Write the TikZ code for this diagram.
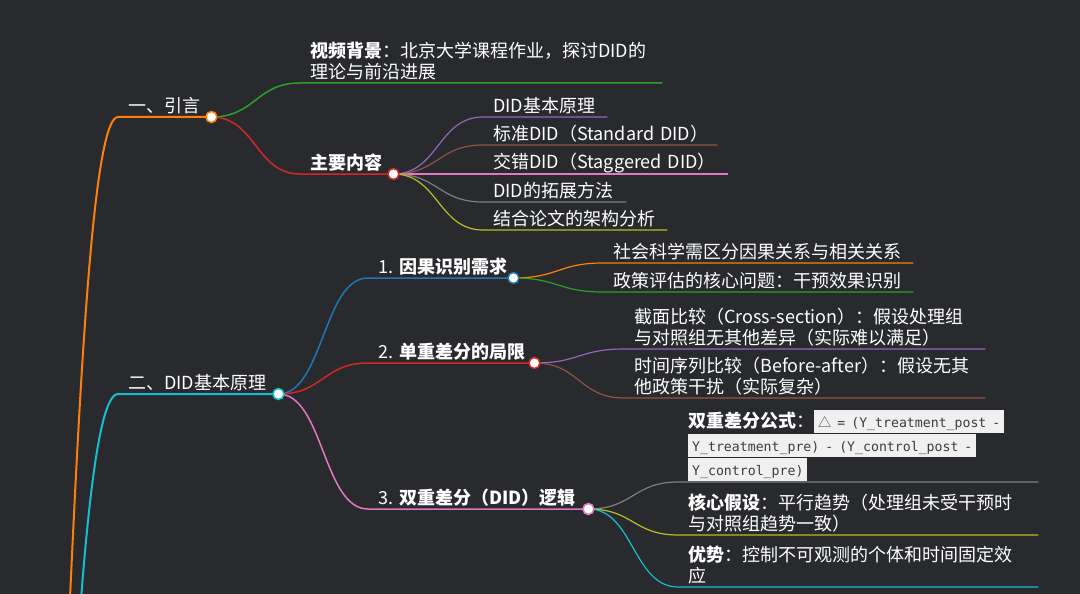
\documentclass[tikz,border=0pt]{standalone}
\usepackage{fontspec}
\setmainfont{Noto Sans CJK SC}
\newfontfamily\codefont{DejaVu Sans Mono}
\usepackage{xcolor}
\usetikzlibrary{calc}
\definecolor{bgdark}{RGB}{40,42,45}
\definecolor{codebg}{RGB}{240,240,240}
\definecolor{codefg}{RGB}{60,60,60}
\definecolor{cBlue}{RGB}{31,119,180}
\definecolor{cOrange}{RGB}{255,127,14}
\definecolor{cGreen}{RGB}{44,160,44}
\definecolor{cRed}{RGB}{214,39,40}
\definecolor{cPurple}{RGB}{148,103,189}
\definecolor{cBrown}{RGB}{140,86,75}
\definecolor{cPink}{RGB}{227,119,194}
\definecolor{cGray}{RGB}{127,127,127}
\definecolor{cOlive}{RGB}{188,189,34}
\definecolor{cTeal}{RGB}{23,190,207}
\newcommand{\lnstrut}{\rule[-3.5pt]{0pt}{3.5pt}}
\newcommand{\code}[1]{{\setlength{\fboxsep}{0pt}\colorbox{codebg}{\hspace{4pt}\codefont\fontsize{13.2}{16}\selectfont\color{codefg}\rule[-6pt]{0pt}{23pt}#1\hspace{4pt}}}}

\begin{document}
\begin{tikzpicture}[
  x=1pt, y=-1pt,
  topic/.style={anchor=south west, inner xsep=10pt, inner ysep=0.5pt,
                text width=#1, align=left, text=white,
                font=\fontsize{18}{21.6}\selectfont,
                execute at end node=\lnstrut},
  dot/.style={circle, draw=#1, fill=white, line width=1.5pt,
              minimum size=11pt, inner sep=0pt},
  mmlink/.style={to path={let \p1=(\tikztostart), \p2=(\tikztotarget) in
      .. controls ({(\x1+\x2)/2},\y1) and ({(\x1+\x2)/2},\y2) .. (\tikztotarget)}},
  lv1/.style={line width=2pt},
  lv2/.style={line width=1.5pt},
  lv3/.style={line width=1.2pt}]
\useasboundingbox (0,0) rectangle (1080,594);
\fill[bgdark] (0,0) rectangle (1080,594);
\clip (0,0) rectangle (1080,594);

\coordinate (root) at (12,1300);

% first level
\node[topic=73pt] (intro) at (118,117) {一、引言};
\node[topic=140pt] (basic) at (118,394) {二、DID基本原理};

% intro
\node[topic=342pt] (bg) at (300,83) {\textbf{视频背景}：北京大学课程作业，探讨DID的\\理论与前沿进展};
\node[topic=73pt] (main) at (300,174) {\textbf{主要内容}};
\node[topic=104pt] (k1) at (483,117) {DID基本原理};
\node[topic=214pt] (k2) at (483,145) {标准DID（Standard~DID）};
\node[topic=225pt] (k3) at (483,174) {交错DID（Staggered~DID）};
\node[topic=123pt] (k4) at (483,202) {DID的拓展方法};
\node[topic=164pt] (k5) at (483,230) {结合论文的架构分析};

% basic principle
\node[topic=125pt] (need) at (368,278) {1.~\textbf{因果识别需求}};
\node[topic=146pt] (limit) at (368,363) {2.~\textbf{单重差分的局限}};
\node[topic=200pt] (logic) at (368,509) {3.~\textbf{双重差分（DID）逻辑}};
\node[topic=290pt] (c1) at (603,263) {社会科学需区分因果关系与相关关系};
\node[topic=290pt] (c2) at (603,292) {政策评估的核心问题：干预效果识别};
\node[topic=341pt] (s1) at (624,349) {截面比较（\mbox{Cross-section}）：假设处理组\\与对照组无其他差异（实际难以满足）};
\node[topic=341pt] (s2) at (624,398) {时间序列比较（\mbox{Before-after}）：假设无其\\他政策干扰（实际复杂）};
\node[topic=340pt] (f1) at (678,482) {\textbf{双重差分公式}：\code{{\rmfamily △} = (Y\_treatment\_post -}\\\code{Y\_treatment\_pre) - (Y\_control\_post -}\\\code{Y\_control\_pre)}};
\node[topic=340pt] (f2) at (678,535) {\textbf{核心假设}：平行趋势（处理组未受干预时\\与对照组趋势一致）};
\node[topic=340pt] (f3) at (678,587) {\textbf{优势}：控制不可观测的个体和时间固定效\\应};

% branches
\draw[cOrange,lv1] (root) to[mmlink] (intro.south west) -- (intro.south east);
\draw[cTeal,lv1] (root) to[mmlink] (basic.south west) -- (basic.south east);
\draw[cGreen,lv2] (intro.south east) to[mmlink] (bg.south west) -- (bg.south east);
\draw[cRed,lv2] (intro.south east) to[mmlink] (main.south west) -- (main.south east);
\draw[cPurple,lv3] (main.south east) to[mmlink] (k1.south west) -- (k1.south east);
\draw[cBrown,lv3] (main.south east) to[mmlink] (k2.south west) -- (k2.south east);
\draw[cPink,lv3] (main.south east) to[mmlink] (k3.south west) -- (k3.south east);
\draw[cGray,lv3] (main.south east) to[mmlink] (k4.south west) -- (k4.south east);
\draw[cOlive,lv3] (main.south east) to[mmlink] (k5.south west) -- (k5.south east);
\draw[cBlue,lv2] (basic.south east) to[mmlink] (need.south west) -- (need.south east);
\draw[cRed,lv2] (basic.south east) to[mmlink] (limit.south west) -- (limit.south east);
\draw[cPink,lv2] (basic.south east) to[mmlink] (logic.south west) -- (logic.south east);
\draw[cOrange,lv3] (need.south east) to[mmlink] (c1.south west) -- (c1.south east);
\draw[cGreen,lv3] (need.south east) to[mmlink] (c2.south west) -- (c2.south east);
\draw[cPurple,lv3] (limit.south east) to[mmlink] (s1.south west) -- (s1.south east);
\draw[cBrown,lv3] (limit.south east) to[mmlink] (s2.south west) -- (s2.south east);
\draw[cGray,lv3] (logic.south east) to[mmlink] (f1.south west) -- (f1.south east);
\draw[cOlive,lv3] (logic.south east) to[mmlink] (f2.south west) -- (f2.south east);
\draw[cTeal,lv3] (logic.south east) to[mmlink] (f3.south west) -- (f3.south east);

% circles
\node[dot=cOrange] (intro-c) at (intro.south east) {};
\node[dot=cTeal] (basic-c) at (basic.south east) {};
\node[dot=cRed] (main-c) at (main.south east) {};
\node[dot=cBlue] (need-c) at (need.south east) {};
\node[dot=cRed] (limit-c) at (limit.south east) {};
\node[dot=cPink] (logic-c) at (logic.south east) {};
\end{tikzpicture}
\end{document}
